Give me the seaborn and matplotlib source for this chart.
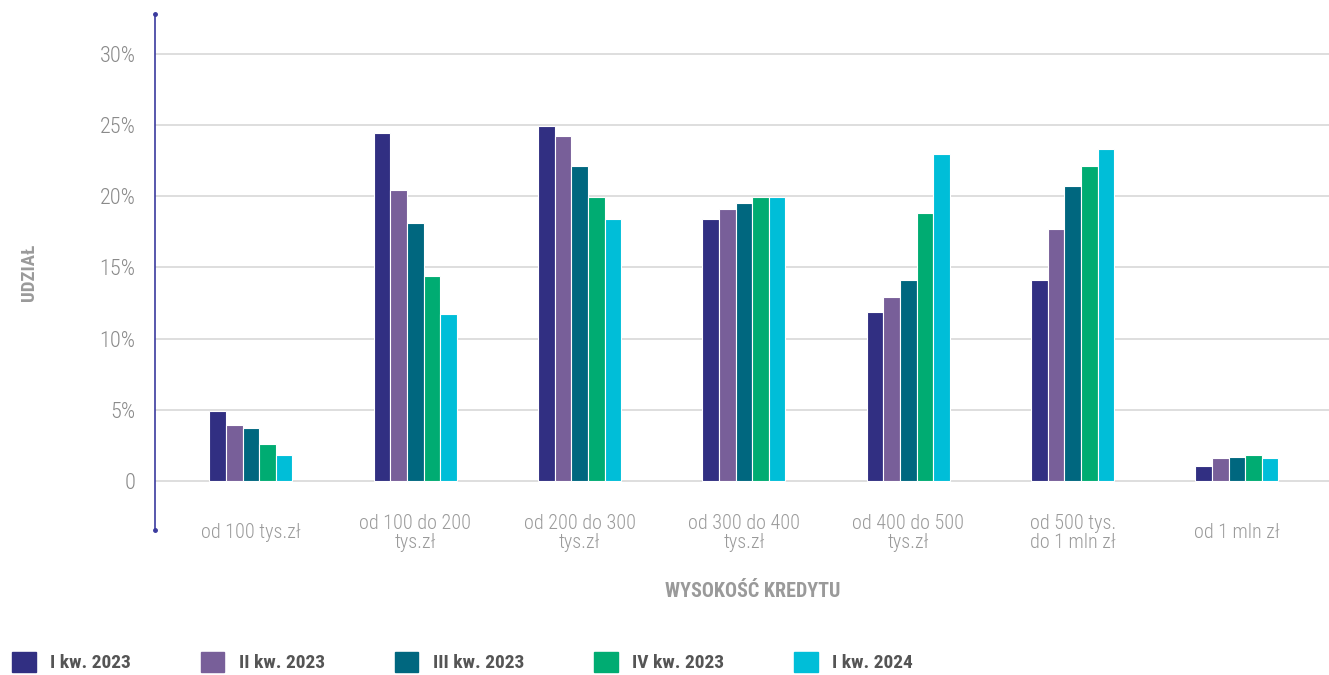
import matplotlib as mpl
import matplotlib.pyplot as plt
import matplotlib.font_manager as fm
import numpy as np
import pandas as pd
import seaborn as sns

# kredyty wg wysokości - udział w %
categories = ['od 100 tys.zł', 'od 100 do 200\ntys.zł', 'od 200 do 300\ntys.zł',
              'od 300 do 400\ntys.zł', 'od 400 do 500\ntys.zł', 'od 500 tys.\ndo 1 mln zł',
              'od 1 mln zł']
series = ['I kw. 2023', 'II kw. 2023', 'III kw. 2023', 'IV kw. 2023', 'I kw. 2024']
q1_2023 = [4.9, 24.45, 24.95, 18.4, 11.9, 14.1, 1.05]
q2_2023 = [3.9, 20.45, 24.25, 19.1, 12.9, 17.7, 1.6]
q3_2023 = [3.75, 18.1, 22.1, 19.5, 14.1, 20.7, 1.7]
q4_2023 = [2.6, 14.4, 19.95, 19.95, 18.85, 22.1, 1.8]
q1_2024 = [1.8, 11.7, 18.4, 19.95, 23.0, 23.3, 1.6]
yticks = [0, 5, 10, 15, 20, 25, 30]
ytick_labels = ['0', '5%', '10%', '15%', '20%', '25%', '30%']

colors = ['#312f82', '#785f99', '#00677f', '#00ac72', '#00bed8']

rows = []
for name, vals in zip(series, [q1_2023, q2_2023, q3_2023, q4_2023, q1_2024]):
    for cat, v in zip(categories, vals):
        rows.append({'kategoria': cat, 'okres': name, 'udzial': v})
df = pd.DataFrame(rows)

sns.set_style('white')
avail = {f.name for f in fm.fontManager.ttflist}
main_font = 'DejaVu Sans'
for cand in ['Roboto Condensed', 'Liberation Sans Narrow', 'Roboto', 'Lato']:
    if cand in avail:
        main_font = cand
        break
plt.rcParams['font.family'] = [main_font, 'DejaVu Sans']

fig = plt.figure(figsize=(13.29, 6.75), dpi=100)
ax = fig.add_axes([155 / 1329, 145 / 675, 1 - 155 / 1329, 516 / 675])

sns.barplot(data=df, x='kategoria', y='udzial', hue='okres', palette=colors,
            saturation=1, width=0.505, edgecolor='white', linewidth=0.8, ax=ax,
            legend=False)

ax.set_xlim(-0.584, 6.56)
ax.set_ylim(-3.44, 32.8)
ax.set_yticks(yticks)
ax.set_yticklabels(ytick_labels)
ax.grid(axis='y', color='#dedede', linewidth=1.4)
ax.set_axisbelow(True)

for s in ['top', 'right', 'bottom']:
    ax.spines[s].set_visible(False)
ax.spines['left'].set_color('#3b3b9e')
ax.spines['left'].set_linewidth(1.2)
# small end caps on the axis line
ax.plot([0, 0], [0, 1], transform=ax.transAxes, color='#3b3b9e', lw=0,
        marker='o', markersize=2.5, clip_on=False)

ax.tick_params(axis='y', length=0, pad=14, labelsize=16, labelcolor='#8a8a8a')
ax.tick_params(axis='x', length=0, pad=2, labelsize=14.5, labelcolor='#9a9a9a')
for lbl in ax.get_xticklabels():
    lbl.set_va('center')
    lbl.set_linespacing(1.0)
    lbl.set_fontweight('light')
for lbl in ax.get_yticklabels():
    lbl.set_fontweight('light')

ax.set_ylabel('UDZIAŁ', fontsize=13.5, fontweight='bold', color='#9a9a9a')
ax.yaxis.set_label_coords(-0.1, 0.5)
ax.set_xlabel('WYSOKOŚĆ KREDYTU', fontsize=14.5, fontweight='bold', color='#9a9a9a')
ax.xaxis.set_label_coords((753 - 155) / 1174, -(582 - 530) / 516)

handles = [mpl.patches.Patch(color=c) for c in colors]
fig.legend(handles, series, loc='lower left', bbox_to_anchor=(-0.004, -0.022), ncol=5,
           frameon=False, handlelength=1.2, handleheight=1.2, handletextpad=0.75,
           columnspacing=3.6, prop={'size': 14, 'weight': 'bold'}, labelcolor='#555555')

fig.savefig('out.png', dpi=100)
